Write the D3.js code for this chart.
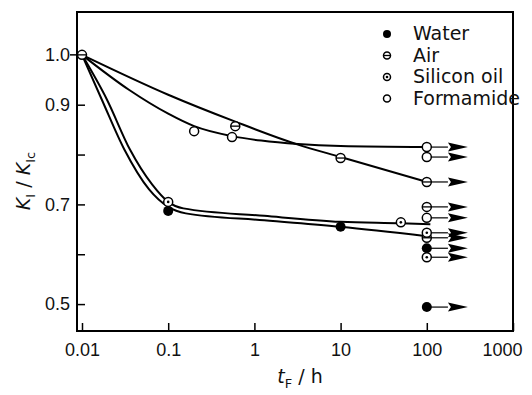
<!DOCTYPE html>
<html>
<head>
<meta charset="utf-8">
<script src="https://cdn.jsdelivr.net/npm/d3@7"></script>
<style>
  body { margin: 0; background: #fff; }
  svg { display: block; font-family: 'DejaVu Sans', sans-serif; }
</style>
</head>
<body>
<div id="chart"></div>
<script>
// fitted curves (t_F in h, K_I/K_Ic)
const airCurve = [[0.01, 1.0], [0.1, 0.92], [0.6, 0.866], [3.2, 0.82], [10, 0.795], [100, 0.745]];
const formamideCurve = [[0.01, 1.0], [0.035, 0.93], [0.1, 0.882], [0.2, 0.857], [0.55, 0.837], [1.2, 0.828], [3.2, 0.821], [10, 0.817], [100, 0.815]];
const siliconCurve = [[0.01, 1.0], [0.0195, 0.91], [0.036, 0.81], [0.065, 0.74], [0.1, 0.705], [0.15, 0.692], [1.3, 0.677], [10, 0.665], [50, 0.662], [110, 0.66]];
const waterCurve = [[0.01, 1.0], [0.017, 0.91], [0.031, 0.81], [0.06, 0.73], [0.1, 0.695], [0.16, 0.682], [1.3, 0.668], [10, 0.655], [100, 0.636]];

// measured points
const waterPts = [[0.1, 0.687], [10, 0.655]];
const airPts = [[0.01, 1.0], [0.6, 0.857], [10, 0.793]];
const siliconPts = [[0.1, 0.705], [50, 0.664]];
const formamidePts = [[0.2, 0.847], [0.55, 0.835]];

// run-outs (no fracture) at 100 h
const runoutTime = 100;
const arrowTo = 300;
const waterRunouts = [0.612, 0.494];
const airRunouts = [0.745, 0.695, 0.633];
const siliconRunouts = [0.643, 0.594];
const formamideRunouts = [0.815, 0.795, 0.673];

const xTicks = [0.01, 0.1, 1, 10, 100, 1000];
const xTickLabels = ['0.01', '0.1', '1', '10', '100', '1000'];
const yTicks = [0.5, 0.6, 0.7, 0.8, 0.9, 1.0];
const yTickLabels = ['0.5', '', '0.7', '', '0.9', '1.0'];
const legendNames = ['Water', 'Air', 'Silicon oil', 'Formamide'];
const legendTypes = ['water', 'air', 'silicon', 'formamide'];

const width = 532, height = 395;
const frame = { left: 77, right: 513, top: 12, bottom: 331 };

const svg = d3.select('#chart').append('svg')
  .attr('width', width)
  .attr('height', height);

const x = d3.scaleLog()
  .domain([0.00875, 1000])
  .range([frame.left, frame.right]);

const y = d3.scaleLinear()
  .domain([0.446, 1.086])
  .range([frame.bottom, frame.top]);

// axes with inward ticks
const xAxis = d3.axisBottom(x)
  .tickValues(xTicks)
  .tickFormat((d, i) => xTickLabels[i])
  .tickSizeInner(-8)
  .tickSizeOuter(0)
  .tickPadding(12);

const gx = svg.append('g')
  .attr('transform', `translate(0,${frame.bottom})`)
  .call(xAxis);
gx.select('.domain').remove();
gx.selectAll('.tick line').attr('stroke', '#000').attr('stroke-width', 1.5);
gx.selectAll('.tick text')
  .attr('font-size', 18)
  .attr('fill', '#111')
  .attr('dx', d => d === 1000 ? -11 : 0);

const yAxis = d3.axisLeft(y)
  .tickValues(yTicks)
  .tickFormat((d, i) => yTickLabels[i])
  .tickSizeInner(-8)
  .tickSizeOuter(0)
  .tickPadding(7);

const gy = svg.append('g')
  .attr('transform', `translate(${frame.left},0)`)
  .call(yAxis);
gy.select('.domain').remove();
gy.selectAll('.tick line').attr('stroke', '#000').attr('stroke-width', 1.5);
gy.selectAll('.tick text').attr('font-size', 18).attr('fill', '#111');

// little outside dash at 1.0
svg.append('line')
  .attr('x1', frame.left - 7).attr('x2', frame.left)
  .attr('y1', y(1.0)).attr('y2', y(1.0))
  .attr('stroke', '#000').attr('stroke-width', 1.5);

// frame
svg.append('rect')
  .attr('x', frame.left)
  .attr('y', frame.top)
  .attr('width', frame.right - frame.left)
  .attr('height', frame.bottom - frame.top)
  .attr('fill', 'none')
  .attr('stroke', '#000')
  .attr('stroke-width', 2);

// curves
const line = d3.line()
  .x(d => x(d[0]))
  .y(d => y(d[1]))
  .curve(d3.curveMonotoneX);

[airCurve, formamideCurve, siliconCurve, waterCurve].forEach(c => {
  svg.append('path')
    .attr('d', line(c))
    .attr('fill', 'none')
    .attr('stroke', '#000')
    .attr('stroke-width', 2);
});

// run-out arrows
const runouts = [].concat(
  waterRunouts.map(v => ({ v, type: 'water' })),
  airRunouts.map(v => ({ v, type: 'air' })),
  siliconRunouts.map(v => ({ v, type: 'silicon' })),
  formamideRunouts.map(v => ({ v, type: 'formamide' }))
);

const headLen = 20, headHalf = 4.5;
runouts.forEach(r => {
  const x0 = x(runoutTime), x1 = x(arrowTo), yy = y(r.v);
  svg.append('line')
    .attr('x1', x0).attr('x2', x1 - headLen)
    .attr('y1', yy).attr('y2', yy)
    .attr('stroke', '#000').attr('stroke-width', 1.2);
  svg.append('path')
    .attr('d', `M${x1},${yy}L${x1 - headLen},${yy - headHalf}L${x1 - headLen + 3},${yy}L${x1 - headLen},${yy + headHalf}Z`)
    .attr('fill', '#000');
});

function drawMarker(g, cx, cy, type, r) {
  if (type === 'water') {
    g.append('circle').attr('cx', cx).attr('cy', cy).attr('r', r + 0.5).attr('fill', '#000');
    return;
  }
  g.append('circle').attr('cx', cx).attr('cy', cy).attr('r', r)
    .attr('fill', '#fff').attr('stroke', '#000').attr('stroke-width', 1.5);
  if (type === 'air') {
    g.append('line').attr('x1', cx - r).attr('x2', cx + r)
      .attr('y1', cy).attr('y2', cy)
      .attr('stroke', '#000').attr('stroke-width', 1.3);
  } else if (type === 'silicon') {
    g.append('circle').attr('cx', cx).attr('cy', cy).attr('r', 1.3).attr('fill', '#000');
  }
}

const marks = svg.append('g');
waterPts.forEach(d => drawMarker(marks, x(d[0]), y(d[1]), 'water', 4.5));
airPts.forEach(d => drawMarker(marks, x(d[0]), y(d[1]), 'air', 4.5));
siliconPts.forEach(d => drawMarker(marks, x(d[0]), y(d[1]), 'silicon', 4.5));
formamidePts.forEach(d => drawMarker(marks, x(d[0]), y(d[1]), 'formamide', 4.5));
runouts.forEach(r => drawMarker(marks, x(runoutTime), y(r.v), r.type, 4.5));

// legend
const legend = svg.append('g');
legendNames.forEach((name, i) => {
  const ly = 34 + i * 21.5;
  drawMarker(legend, 387, ly, legendTypes[i], 3.5);
  legend.append('text')
    .attr('x', 413)
    .attr('y', ly + 6)
    .attr('font-size', 19)
    .attr('fill', '#111')
    .text(name);
});

// axis titles
const yTitle = svg.append('text')
  .attr('transform', 'translate(30,181) rotate(-90)')
  .attr('text-anchor', 'middle')
  .attr('font-size', 19)
  .attr('fill', '#111');
yTitle.append('tspan').attr('font-style', 'italic').text('K');
yTitle.append('tspan').attr('font-size', 13).attr('dy', 5).text('I');
yTitle.append('tspan').attr('dy', -5).text(' / ');
yTitle.append('tspan').attr('font-style', 'italic').text('K');
yTitle.append('tspan').attr('font-size', 13).attr('dy', 5).text('Ic');

const xTitle = svg.append('text')
  .attr('x', 300)
  .attr('y', 383)
  .attr('text-anchor', 'middle')
  .attr('font-size', 19)
  .attr('fill', '#111');
xTitle.append('tspan').attr('font-style', 'italic').text('t');
xTitle.append('tspan').attr('font-size', 13).attr('dy', 5).text('F');
xTitle.append('tspan').attr('dy', -5).text(' / h');
</script>
</body>
</html>
